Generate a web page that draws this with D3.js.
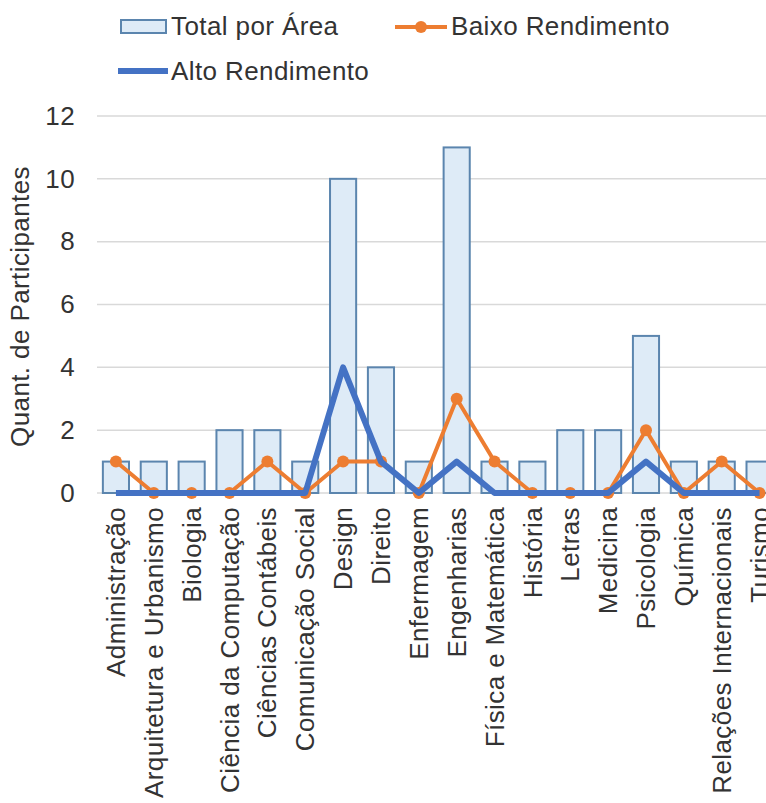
<!DOCTYPE html>
<html>
<head>
<meta charset="utf-8">
<script src="https://cdn.jsdelivr.net/npm/d3@7/dist/d3.min.js"></script>
<style>
  html, body { margin: 0; padding: 0; background: #fff; }
  svg { display: block; font-family: "Liberation Sans", Arial, sans-serif; }
  svg text { letter-spacing: 0.4px; }
</style>
</head>
<body>
<svg id="chart" width="766" height="803"></svg>
<script>
// Participants per field of study
const categories = [
  "Administração", "Arquitetura e Urbanismo", "Biologia", "Ciência da Computação",
  "Ciências Contábeis", "Comunicação Social", "Design", "Direito", "Enfermagem",
  "Engenharias", "Física e Matemática", "História", "Letras", "Medicina",
  "Psicologia", "Química", "Relações Internacionais", "Turismo"
];
const totalPorArea     = [1, 1, 1, 2, 2, 1, 10, 4, 1, 11, 1, 1, 2, 2, 5, 1, 1, 1];
const baixoRendimento  = [1, 0, 0, 0, 1, 0, 1, 1, 0, 3, 1, 0, 0, 0, 2, 0, 1, 0];
const altoRendimento   = [0, 0, 0, 0, 0, 0, 4, 1, 0, 1, 0, 0, 0, 0, 1, 0, 0, 0];
const yTicks = [0, 2, 4, 6, 8, 10, 12];

const colors = {
  barFill: "#DEEBF7",
  barStroke: "#5B85AE",
  baixo: "#ED7D31",
  alto: "#4472C4",
  grid: "#D9D9D9",
  text: "#333333"
};

const svg = d3.select("#chart");
const fontSize = 26;

const plot = { left: 97, right: 778.5, top: 116, bottom: 493 };

const x = d3.scaleBand()
  .domain(categories)
  .range([plot.left, plot.right])
  .paddingInner(0.31)
  .paddingOuter(0.155);

const y = d3.scaleLinear()
  .domain([0, 12])
  .range([plot.bottom, plot.top]);

const cx = d => x(d) + x.bandwidth() / 2;

// Gridlines
svg.append("g")
  .selectAll("line")
  .data(yTicks)
  .join("line")
  .attr("x1", plot.left)
  .attr("x2", plot.right)
  .attr("y1", d => y(d))
  .attr("y2", d => y(d))
  .attr("stroke", colors.grid)
  .attr("stroke-width", 1.5);

// Y axis labels
const yAxis = svg.append("g")
  .attr("transform", `translate(${plot.left},0)`)
  .call(d3.axisLeft(y).tickValues(yTicks).tickSize(0).tickPadding(22));
yAxis.select(".domain").remove();
yAxis.selectAll("text")
  .attr("font-size", fontSize)
  .attr("font-family", "Liberation Sans, Arial, sans-serif")
  .attr("fill", colors.text);

// Y axis title
svg.append("text")
  .attr("transform", `translate(29,${(plot.top + plot.bottom) / 2 + 2}) rotate(-90)`)
  .attr("text-anchor", "middle")
  .attr("font-size", fontSize)
  .attr("fill", colors.text)
  .text("Quant. de Participantes");

// Bars
svg.append("g")
  .selectAll("rect")
  .data(categories.map((c, i) => ({ c, v: totalPorArea[i] })))
  .join("rect")
  .attr("x", d => x(d.c))
  .attr("y", d => y(d.v))
  .attr("width", x.bandwidth())
  .attr("height", d => y(0) - y(d.v))
  .attr("fill", colors.barFill)
  .attr("stroke", colors.barStroke)
  .attr("stroke-width", 2);

// X axis labels
const xAxis = svg.append("g")
  .attr("transform", `translate(0,${plot.bottom})`)
  .call(d3.axisBottom(x).tickSize(0).tickPadding(0));
xAxis.select(".domain").remove();
xAxis.selectAll("text")
  .attr("font-size", fontSize)
  .attr("font-family", "Liberation Sans, Arial, sans-serif")
  .attr("fill", colors.text)
  .attr("text-anchor", "end")
  .attr("transform", "translate(0,14) rotate(-90)")
  .attr("x", 0)
  .attr("y", 0)
  .attr("dy", "0.35em");

// Lines
const line = d3.line()
  .x(d => cx(d.c))
  .y(d => y(d.v));

const baixoData = categories.map((c, i) => ({ c, v: baixoRendimento[i] }));
const altoData = categories.map((c, i) => ({ c, v: altoRendimento[i] }));

svg.append("path")
  .datum(baixoData)
  .attr("fill", "none")
  .attr("stroke", colors.baixo)
  .attr("stroke-width", 4)
  .attr("stroke-linejoin", "round")
  .attr("d", line);

svg.append("g")
  .selectAll("circle")
  .data(baixoData)
  .join("circle")
  .attr("cx", d => cx(d.c))
  .attr("cy", d => y(d.v))
  .attr("r", 6)
  .attr("fill", colors.baixo);

svg.append("path")
  .datum(altoData)
  .attr("fill", "none")
  .attr("stroke", colors.alto)
  .attr("stroke-width", 6)
  .attr("stroke-linejoin", "round")
  .attr("d", line);

// Legend
const legend = svg.append("g");
legend.append("rect")
  .attr("x", 121).attr("y", 20).attr("width", 45).attr("height", 13)
  .attr("fill", colors.barFill).attr("stroke", colors.barStroke).attr("stroke-width", 2);
legend.append("text")
  .attr("x", 171).attr("y", 35).attr("font-size", fontSize).attr("fill", colors.text)
  .text("Total por Área");

legend.append("line")
  .attr("x1", 395).attr("x2", 447).attr("y1", 27).attr("y2", 27)
  .attr("stroke", colors.baixo).attr("stroke-width", 4);
legend.append("circle")
  .attr("cx", 421).attr("cy", 27).attr("r", 6).attr("fill", colors.baixo);
legend.append("text")
  .attr("x", 451).attr("y", 35).attr("font-size", fontSize).attr("fill", colors.text)
  .text("Baixo Rendimento");

legend.append("line")
  .attr("x1", 118).attr("x2", 168).attr("y1", 71).attr("y2", 71)
  .attr("stroke", colors.alto).attr("stroke-width", 6);
legend.append("text")
  .attr("x", 171).attr("y", 80).attr("font-size", fontSize).attr("fill", colors.text)
  .text("Alto Rendimento");
</script>
</body>
</html>
